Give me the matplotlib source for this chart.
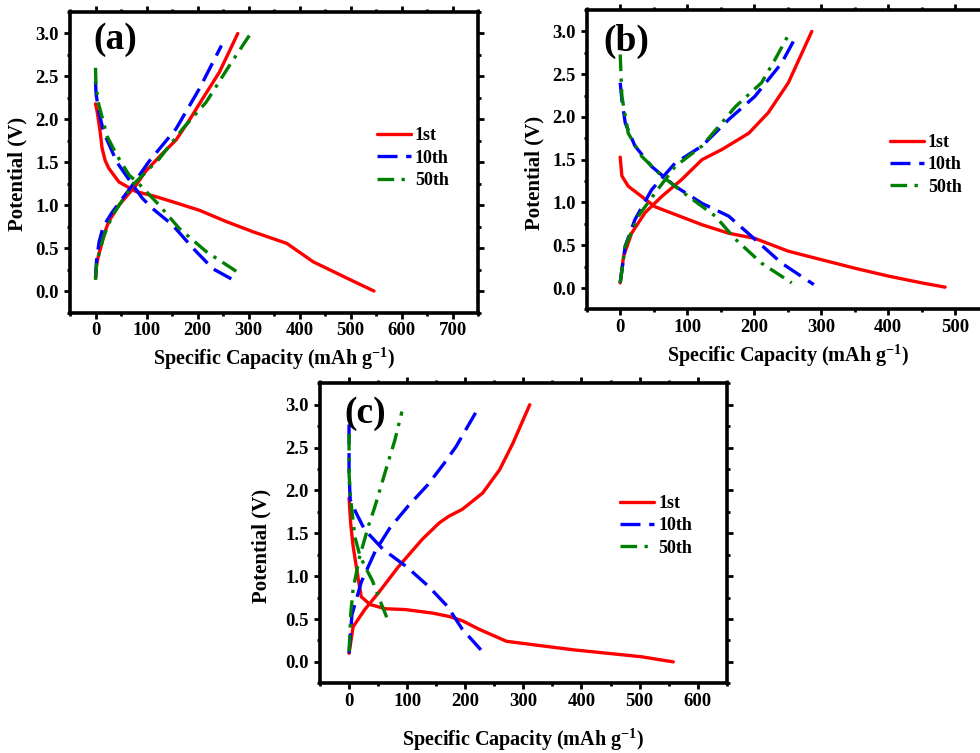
import matplotlib
matplotlib.use("Agg")
import matplotlib.pyplot as plt
from matplotlib.ticker import MultipleLocator

plt.rcParams['font.family'] = ['Liberation Serif', 'DejaVu Serif']
plt.rcParams['font.weight'] = 'bold'
plt.rcParams['mathtext.fontset'] = 'custom'
plt.rcParams['mathtext.rm'] = 'Liberation Serif:bold'
plt.rcParams['mathtext.it'] = 'Liberation Serif:italic:bold'
plt.rcParams['mathtext.bf'] = 'Liberation Serif:bold'

# ---------------- data: panel (a) ----------------
a_1st_dis_x = [0, 3, 6, 9, 13, 19, 26, 46, 79, 118, 151, 204, 256, 309, 375, 427, 493, 546]
a_1st_dis_y = [2.18, 2.1, 1.98, 1.86, 1.66, 1.52, 1.43, 1.27, 1.16, 1.10, 1.04, 0.94, 0.81, 0.69, 0.555, 0.34, 0.15, 0.0]
a_1st_chg_x = [0, 2, 6, 10, 18, 26, 46, 79, 99, 131, 158, 184, 210, 243, 279]
a_1st_chg_y = [0.15, 0.3, 0.42, 0.50, 0.68, 0.81, 1.0, 1.23, 1.40, 1.60, 1.76, 1.99, 2.24, 2.55, 3.0]
a_10_dis_x = [0, 1, 6.5, 16, 42, 69, 92, 112, 151, 191, 230, 276]
a_10_dis_y = [2.44, 2.3, 2.09, 1.85, 1.5, 1.27, 1.08, 0.96, 0.77, 0.50, 0.26, 0.11]
a_10_chg_x = [0, 2, 7, 15, 33, 72, 105, 158, 204, 247]
a_10_chg_y = [0.15, 0.35, 0.57, 0.75, 0.92, 1.23, 1.51, 1.89, 2.36, 2.86]
a_50_dis_x = [0, 1, 6.5, 23, 42, 66, 85, 125, 164, 217, 276]
a_50_dis_y = [2.6, 2.38, 2.17, 1.8, 1.58, 1.35, 1.25, 1.0, 0.73, 0.46, 0.23]
a_50_chg_x = [0, 2, 6.5, 15, 33, 72, 125, 171, 217, 263, 302]
a_50_chg_y = [0.13, 0.3, 0.42, 0.62, 0.88, 1.23, 1.54, 1.89, 2.20, 2.63, 2.98]

# ---------------- data: panel (b) ----------------
b_1st_dis_x = [0, 2.5, 12, 32, 52, 82, 122, 162, 201, 251, 301, 351, 400, 450, 485]
b_1st_dis_y = [1.53, 1.31, 1.19, 1.07, 0.95, 0.86, 0.74, 0.64, 0.58, 0.43, 0.33, 0.23, 0.14, 0.06, 0.01]
b_1st_chg_x = [0, 5, 17, 37, 62, 92, 122, 152, 192, 221, 251, 286]
b_1st_chg_y = [0.06, 0.37, 0.64, 0.88, 1.07, 1.27, 1.50, 1.62, 1.81, 2.05, 2.40, 3.0]
b_10_dis_x = [0, 2.5, 7.5, 22, 47, 82, 122, 162, 201, 241, 289]
b_10_dis_y = [2.4, 2.2, 1.93, 1.66, 1.42, 1.19, 0.99, 0.84, 0.57, 0.29, 0.04]
b_10_chg_x = [0, 7.5, 22, 47, 82, 122, 162, 201, 241, 261]
b_10_chg_y = [0.06, 0.49, 0.80, 1.15, 1.46, 1.66, 1.97, 2.24, 2.63, 2.92]
b_50_dis_x = [0, 2.5, 12, 32, 62, 102, 142, 172, 211, 256]
b_50_dis_y = [2.73, 2.24, 1.81, 1.54, 1.31, 1.07, 0.84, 0.57, 0.29, 0.06]
b_50_chg_x = [0, 7.5, 27, 52, 82, 122, 172, 211, 231, 254]
b_50_chg_y = [0.06, 0.49, 0.84, 1.11, 1.42, 1.66, 2.12, 2.40, 2.67, 3.0]

# ---------------- data: panel (c) ----------------
c_1st_dis_x = [0, 3, 7, 16, 21, 36, 62, 97, 143, 172, 195, 224, 271, 317, 387, 445, 503, 558]
c_1st_dis_y = [1.91, 1.6, 1.35, 0.96, 0.76, 0.67, 0.62, 0.61, 0.57, 0.53, 0.48, 0.38, 0.24, 0.20, 0.14, 0.10, 0.06, 0.0]
c_1st_chg_x = [0, 7, 27, 50, 85, 126, 155, 172, 195, 230, 259, 282, 311]
c_1st_chg_y = [0.10, 0.41, 0.61, 0.80, 1.11, 1.43, 1.62, 1.70, 1.78, 1.97, 2.24, 2.55, 3.0]
c_10_dis_x = [0, 0, 2, 12, 27, 59, 99, 137, 169, 195, 227]
c_10_dis_y = [2.77, 2.2, 1.89, 1.74, 1.54, 1.31, 1.11, 0.88, 0.65, 0.38, 0.14]
c_10_chg_x = [0, 5, 21, 45, 70, 102, 136, 163, 184, 219]
c_10_chg_y = [0.10, 0.55, 0.93, 1.29, 1.56, 1.82, 2.07, 2.31, 2.51, 2.92]
c_50_dis_x = [0, 0, 2, 6, 10, 19, 33, 40, 56, 69]
c_50_dis_y = [2.66, 2.2, 1.95, 1.7, 1.46, 1.23, 1.04, 0.95, 0.67, 0.45]
c_50_chg_x = [0, 3, 7, 18, 34, 44, 55, 66, 79, 91]
c_50_chg_y = [0.12, 0.57, 0.85, 1.22, 1.6, 1.8, 2.05, 2.3, 2.59, 2.92]

labels = ['1st', '10th', '50th']
colors = ['#FF0000', '#0000FF', '#008000']
LW = 2.4
styles = [dict(linestyle='-'), dict(dashes=(6, 2.6)), dict(dashes=(5, 2.2, 1, 2.2))]

fig = plt.figure(figsize=(9.8, 7.53), dpi=100)
W, H = 980.0, 753.0

def make_axes(left, top, width, height):
    return fig.add_axes([left / W, 1 - (top + height) / H, width / W, height / H])

axA = make_axes(70, 12, 408, 300.5)
axB = make_axes(586.7, 10, 402, 299.4)
axC = make_axes(320, 383.3, 406.7, 300)

panels = [
    (axA, '(a)', (-50, 750),
     [(a_1st_dis_x, a_1st_dis_y, a_1st_chg_x, a_1st_chg_y),
      (a_10_dis_x, a_10_dis_y, a_10_chg_x, a_10_chg_y),
      (a_50_dis_x, a_50_dis_y, a_50_chg_x, a_50_chg_y)],
     (0.752, 0.514), (0.110, 0.907), (-0.103, 0.46), -0.112),
    (axB, '(b)', (-50, 550),
     [(b_1st_dis_x, b_1st_dis_y, b_1st_chg_x, b_1st_chg_y),
      (b_10_dis_x, b_10_dis_y, b_10_chg_x, b_10_chg_y),
      (b_50_dis_x, b_50_dis_y, b_50_chg_x, b_50_chg_y)],
     (0.754, 0.483), (0.098, 0.896), (-0.104, 0.456), -0.11),
    (axC, '(c)', (-50, 650),
     [(c_1st_dis_x, c_1st_dis_y, c_1st_chg_x, c_1st_chg_y),
      (c_10_dis_x, c_10_dis_y, c_10_chg_x, c_10_chg_y),
      (c_50_dis_x, c_50_dis_y, c_50_chg_x, c_50_chg_y)],
     (0.738, 0.525), (0.111, 0.898), (-0.119, 0.458), -0.145),
]

for ax, tag, xlim, series, legpos, tagpos, ylabpos, xlaby in panels:
    for (dx, dy, cx, cy), lab, col, st in zip(series, labels, colors, styles):
        ax.plot(dx, dy, color=col, lw=LW, label=lab, solid_capstyle='round', **st)
        ax.plot(cx, cy, color=col, lw=LW, solid_capstyle='round', **st)
    ax.set_xlim(*xlim)
    ax.set_ylim(-0.25, 3.25)
    ax.xaxis.set_major_locator(MultipleLocator(100))
    ax.xaxis.set_minor_locator(MultipleLocator(50))
    ax.yaxis.set_major_locator(MultipleLocator(0.5))
    ax.yaxis.set_minor_locator(MultipleLocator(0.25))
    for s in ax.spines.values():
        s.set_linewidth(2.6)
    ax.tick_params(which='both', direction='out', top=True, right=True,
                   width=2.0, labelsize=13.5, pad=4)
    ax.tick_params(which='major', length=4)
    ax.tick_params(which='minor', length=2.5)
    ax.tick_params(axis='x', which='major', pad=3)
    for lbl in ax.get_xticklabels() + ax.get_yticklabels():
        lbl.set_fontweight('bold')
    ax.set_ylabel('Potential (V)', fontsize=15, fontweight='bold')
    ax.set_xlabel('Specific Capacity (mAh g$^{-1}$)', fontsize=14.5, fontweight='bold')
    ax.yaxis.set_label_coords(*ylabpos)
    ax.xaxis.set_label_coords(0.5, xlaby)
    ax.text(*tagpos, tag, transform=ax.transAxes, ha='center', va='center',
            fontsize=27, fontweight='bold')
    ax.legend(loc='center left', bbox_to_anchor=legpos, frameon=False,
              borderpad=0, borderaxespad=0, handlelength=1.9,
              handletextpad=0.2, labelspacing=0.3, prop={'weight': 'bold', 'size': 13})

fig.savefig('out.png', dpi=100)
